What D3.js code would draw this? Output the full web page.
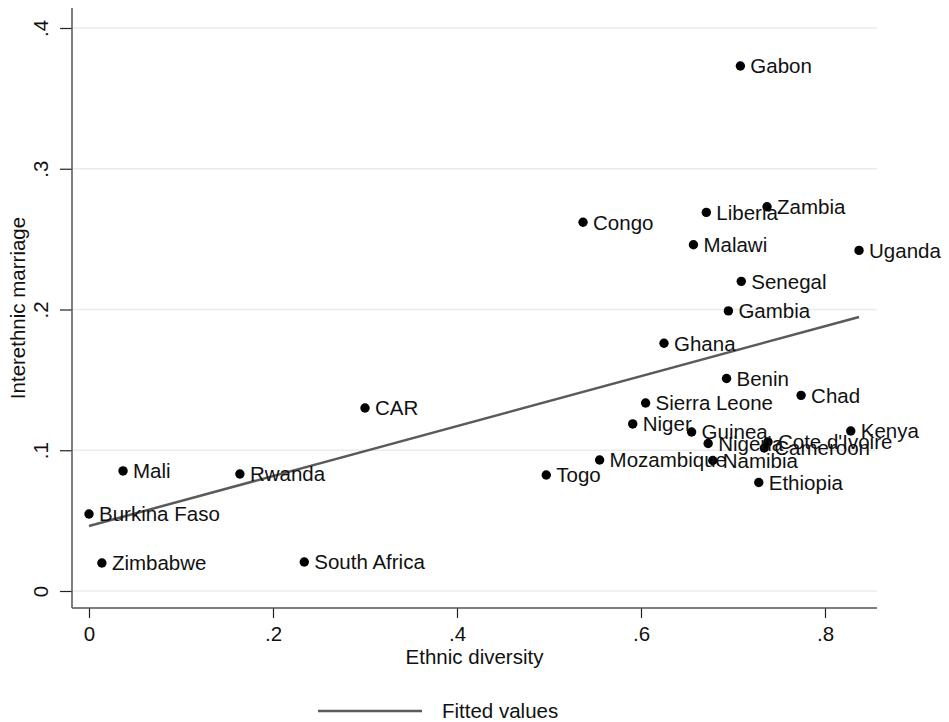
<!DOCTYPE html>
<html>
<head>
<meta charset="utf-8">
<script src="https://cdn.jsdelivr.net/npm/d3@7"></script>
<style>
  body { margin: 0; background: #fff; }
  svg { display: block; font-family: "Liberation Sans", Arial, sans-serif; }
</style>
</head>
<body>
<div id="chart"></div>
<script>
const countries = ['Gabon', 'Zambia', 'Liberia', 'Congo', 'Malawi', 'Uganda', 'Senegal', 'Gambia',
  'Ghana', 'Benin', 'Chad', 'Sierra Leone', 'CAR', 'Niger', 'Guinea', 'Kenya', 'Nigeria',
  "Cote d'Ivoire", 'Cameroon', 'Namibia', 'Mozambique', 'Ethiopia', 'Mali', 'Rwanda', 'Togo',
  'Burkina Faso', 'Zimbabwe', 'South Africa'];
const diversity = [0.708, 0.737, 0.671, 0.537, 0.657, 0.837, 0.709, 0.695,
  0.625, 0.693, 0.774, 0.605, 0.300, 0.591, 0.655, 0.828, 0.673,
  0.738, 0.734, 0.678, 0.555, 0.728, 0.037, 0.164, 0.497,
  0.0, 0.014, 0.234];
const marriage = [0.373, 0.273, 0.269, 0.262, 0.246, 0.242, 0.220, 0.199,
  0.176, 0.151, 0.139, 0.1336, 0.130, 0.1187, 0.113, 0.1137, 0.1048,
  0.1059, 0.1016, 0.0927, 0.0931, 0.0771, 0.0853, 0.0831, 0.0824,
  0.0547, 0.0199, 0.0206];
// fitted line endpoints
const fitX = [0, 0.837];
const fitY = [0.0462, 0.1947];
const xTicks = [0, 0.2, 0.4, 0.6, 0.8];
const yTicks = [0, 0.1, 0.2, 0.3, 0.4];

const width = 949;
const height = 722;
const plot = { left: 72, right: 877, top: 8, bottom: 608 };
const fontSize = '20.5px';

const points = countries.map((name, i) => ({ name, x: diversity[i], y: marriage[i] }));
const fit = fitX.map((x, i) => ({ x, y: fitY[i] }));

const x = d3.scaleLinear().domain([0, 0.8]).range([89, 825]);
const y = d3.scaleLinear().domain([0, 0.4]).range([591, 28]);
const fmt = d => (d === 0 ? '0' : d3.format('.1f')(d).replace(/^0/, ''));

const svg = d3.select('#chart')
  .append('svg')
  .attr('width', width)
  .attr('height', height);

svg.append('rect')
  .attr('width', width)
  .attr('height', height)
  .attr('fill', '#fff');

// gridlines
svg.append('g')
  .selectAll('line')
  .data(yTicks)
  .join('line')
  .attr('x1', plot.left)
  .attr('x2', plot.right)
  .attr('y1', d => y(d))
  .attr('y2', d => y(d))
  .attr('stroke', '#ebebeb')
  .attr('stroke-width', 1.5);

// y axis
const yAxis = svg.append('g')
  .attr('transform', `translate(${plot.left},0)`)
  .call(d3.axisLeft(y).tickValues(yTicks).tickFormat(fmt).tickSize(12).tickSizeOuter(0));
yAxis.select('.domain').remove();
yAxis.append('line')
  .attr('y1', plot.top).attr('y2', plot.bottom)
  .attr('stroke', '#555').attr('stroke-width', 1.5);
yAxis.selectAll('.tick line').attr('stroke', '#222').attr('stroke-width', 1.2);
yAxis.selectAll('.tick text')
  .attr('x', 0).attr('dy', 0)
  .attr('transform', 'translate(-24,0) rotate(-90)')
  .attr('text-anchor', 'middle')
  .attr('fill', '#111')
  .style('font-size', fontSize);

// x axis
const xAxis = svg.append('g')
  .attr('transform', `translate(0,${plot.bottom})`)
  .call(d3.axisBottom(x).tickValues(xTicks).tickFormat(fmt).tickSize(10).tickSizeOuter(0));
xAxis.select('.domain').remove();
xAxis.append('line')
  .attr('x1', plot.left).attr('x2', plot.right)
  .attr('stroke', '#555').attr('stroke-width', 1.5);
xAxis.selectAll('.tick line').attr('stroke', '#222').attr('stroke-width', 1.2);
xAxis.selectAll('.tick text')
  .attr('y', 33)
  .attr('dy', 0)
  .attr('fill', '#111')
  .style('font-size', fontSize);

// axis titles
svg.append('text')
  .attr('x', (plot.left + plot.right) / 2)
  .attr('y', 664)
  .attr('text-anchor', 'middle')
  .attr('fill', '#111')
  .style('font-size', fontSize)
  .text('Ethnic diversity');

svg.append('text')
  .attr('transform', `translate(25,${(plot.top + plot.bottom) / 2}) rotate(-90)`)
  .attr('text-anchor', 'middle')
  .attr('fill', '#111')
  .style('font-size', fontSize)
  .text('Interethnic marriage');

// fitted line
svg.append('path')
  .datum(fit)
  .attr('fill', 'none')
  .attr('stroke', '#5a5a5a')
  .attr('stroke-width', 2.5)
  .attr('d', d3.line().x(d => x(d.x)).y(d => y(d.y)));

// points and labels
const pts = svg.append('g');
pts.selectAll('circle')
  .data(points)
  .join('circle')
  .attr('cx', d => x(d.x))
  .attr('cy', d => y(d.y))
  .attr('r', 4.7)
  .attr('fill', '#000');

pts.selectAll('text')
  .data(points)
  .join('text')
  .attr('x', d => x(d.x) + 10)
  .attr('y', d => y(d.y))
  .attr('dy', '0.36em')
  .attr('fill', '#111')
  .style('font-size', fontSize)
  .text(d => d.name);

// legend
const legend = svg.append('g').attr('transform', 'translate(0,711)');
legend.append('line')
  .attr('x1', 318).attr('x2', 422)
  .attr('stroke', '#5a5a5a').attr('stroke-width', 2.5);
legend.append('text')
  .attr('x', 442)
  .attr('dy', '0.36em')
  .attr('fill', '#111')
  .style('font-size', fontSize)
  .text('Fitted values');
</script>
</body>
</html>
